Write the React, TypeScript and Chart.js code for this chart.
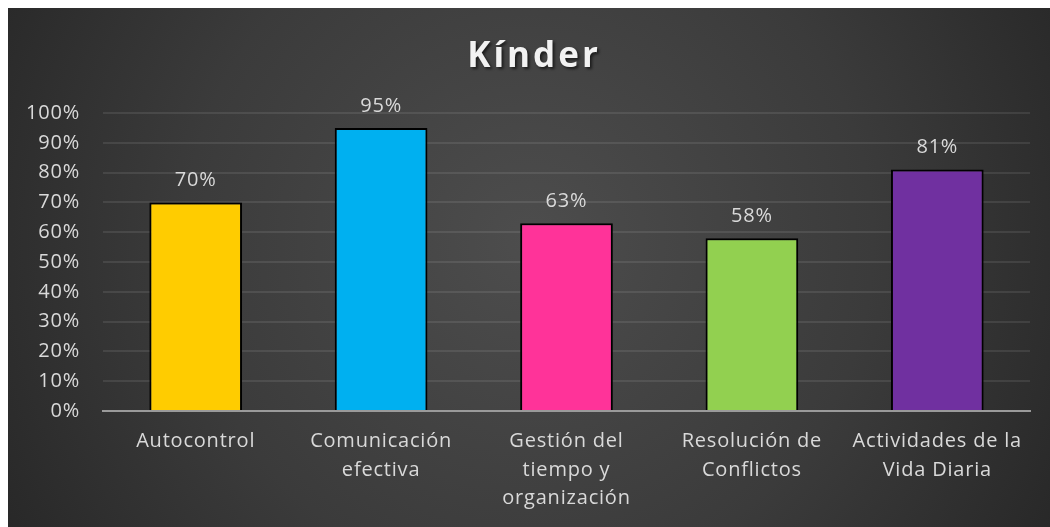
import React, { useEffect, useRef } from "react";
import { Chart, registerables } from "chart.js";

Chart.register(...registerables);

const TITLE = "Kínder";
const categories: string[][] = [
  ["Autocontrol"],
  ["Comunicación", "efectiva"],
  ["Gestión del", "tiempo y", "organización"],
  ["Resolución de", "Conflictos"],
  ["Actividades de la", "Vida Diaria"],
];
const values: number[] = [70, 95, 63, 58, 81];
const barColors: string[] = ["#FFCC00", "#00B0F0", "#FF3399", "#92D050", "#7030A0"];

const FONT = "'Open Sans', sans-serif";
const TEXT = "#d9d9d9";
const SPACING = "0.8px";

const bgPlugin = {
  id: "bg",
  beforeDraw(chart: any) {
    const { ctx, width, height } = chart;
    const g = ctx.createRadialGradient(width * 0.5, height * 0.45, 0, width * 0.5, height * 0.45, width * 0.6);
    g.addColorStop(0, "#4d4d4d");
    g.addColorStop(0.55, "#3b3b3b");
    g.addColorStop(1, "#262626");
    ctx.fillStyle = g;
    ctx.fillRect(0, 0, width, height);
    (ctx as any).letterSpacing = SPACING;
  },
};

const titlePlugin = {
  id: "customTitle",
  afterDraw(chart: any) {
    const { ctx, width } = chart;
    ctx.save();
    ctx.font = `bold 35px ${FONT}`;
    (ctx as any).letterSpacing = "3px";
    ctx.textAlign = "center";
    ctx.textBaseline = "middle";
    ctx.shadowColor = "rgba(0,0,0,0.6)";
    ctx.shadowOffsetX = 2;
    ctx.shadowOffsetY = 2;
    ctx.shadowBlur = 3;
    ctx.fillStyle = "#f2f2f2";
    ctx.fillText(TITLE, width / 2 + 5, 49);
    ctx.restore();
  },
};

const labelPlugin = {
  id: "valueLabels",
  afterDatasetsDraw(chart: any) {
    const { ctx } = chart;
    const meta = chart.getDatasetMeta(0);
    ctx.save();
    ctx.font = `20px ${FONT}`;
    (ctx as any).letterSpacing = SPACING;
    ctx.fillStyle = TEXT;
    ctx.textAlign = "center";
    ctx.textBaseline = "bottom";
    meta.data.forEach((el: any, i: number) => {
      ctx.fillText(values[i] + "%", el.x, el.y - 12);
    });
    ctx.restore();
  },
};

export default function App() {
  const ref = useRef<HTMLCanvasElement>(null);
  useEffect(() => {
    if (!ref.current) return;
    const chart = new Chart(ref.current, {
      type: "bar",
      data: {
        labels: categories,
        datasets: [
          {
            data: values,
            backgroundColor: barColors,
            borderColor: "#000000",
            borderWidth: 2,
            borderSkipped: "bottom",
            categoryPercentage: 0.5,
            barPercentage: 1,
          },
        ],
      },
      options: {
        animation: false,
        responsive: true,
        maintainAspectRatio: false,
        layout: { padding: { top: 105, right: 20, left: 0, bottom: 0 } },
        plugins: {
          legend: { display: false },
          title: { display: false },
          tooltip: { enabled: false },
        },
        scales: {
          x: {
            grid: { display: false, drawTicks: false },
            border: { display: true, color: "#9a9a9a", width: 2 },
            ticks: {
              color: TEXT,
              font: { family: FONT, size: 20, lineHeight: 1.43 },
              padding: 16,
              maxRotation: 0,
              autoSkip: false,
            },
            afterFit(scale: any) {
              scale.height = 116;
            },
          },
          y: {
            min: 0,
            max: 100,
            grid: { color: "rgba(255,255,255,0.09)", lineWidth: 2, drawTicks: false },
            border: { display: false },
            ticks: {
              stepSize: 10,
              color: TEXT,
              font: { family: FONT, size: 20 },
              padding: 23,
              callback: (v: any) => v + "%",
            },
            afterFit(scale: any) {
              scale.width = 95;
            },
          },
        },
      },
      plugins: [bgPlugin, titlePlugin, labelPlugin],
    });
    return () => chart.destroy();
  }, []);
  return (
    <div style={{ position: "fixed", left: 8, top: 8, width: 1042, height: 519 }}>
      <canvas ref={ref} />
    </div>
  );
}
